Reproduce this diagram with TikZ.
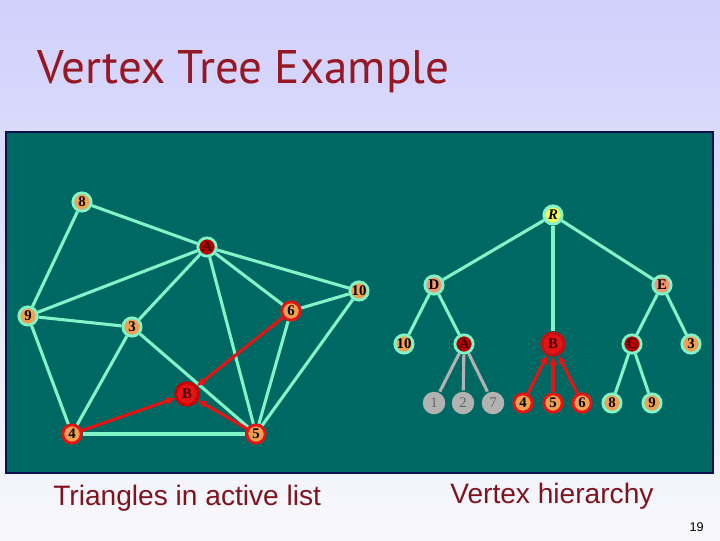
\documentclass[tikz,border=0pt]{standalone}
\usepackage{fontspec}
\setmainfont{Liberation Serif}
\newfontfamily\titlefont{PT Sans}
\newfontfamily\capfont{Liberation Sans}
\usetikzlibrary{arrows.meta}
\definecolor{slidetop}{RGB}{208,208,252}
\definecolor{slidebot}{RGB}{248,248,252}
\definecolor{panel}{RGB}{0,104,98}
\definecolor{panelrim}{RGB}{10,16,80}
\definecolor{aqua}{RGB}{130,245,200}
\definecolor{vorange}{RGB}{240,160,80}
\definecolor{vred}{RGB}{228,20,20}
\definecolor{vdark}{RGB}{178,0,0}
\definecolor{vsalmon}{RGB}{240,150,112}
\definecolor{vgray}{RGB}{178,178,178}
\definecolor{vyellow}{RGB}{245,250,90}
\definecolor{titlered}{RGB}{150,24,36}
\definecolor{capred}{RGB}{128,20,30}
\definecolor{darktext}{RGB}{70,0,0}
\pgfdeclarelayer{back}
\pgfdeclarelayer{edges}
\pgfsetlayers{back,edges,main}
\begin{document}
\begin{tikzpicture}[x=0.025cm,y=-0.025cm,
  vtx/.style={circle,draw=aqua,fill=vorange,line width=2pt,inner sep=0pt,minimum size=13pt,font=\bfseries\fontsize{10.5}{10.5}\selectfont},
  hot/.style={vtx,draw=vred},
  dk/.style={vtx,fill=vdark,text=darktext},
  inner/.style={vtx,fill=vsalmon},
  gone/.style={vtx,draw=none,fill=vgray,minimum size=16pt,text=black!60,font=\fontsize{10.5}{10.5}\selectfont},
  link/.style={aqua,line width=2.2pt},
  dead/.style={vgray,line width=2.2pt},
  act/.style={vred,line width=2.2pt,-{Triangle[length=6pt,width=5pt]}}]
\useasboundingbox (0,0) rectangle (720,540);
\begin{pgfonlayer}{back}
\shade[top color=slidetop,bottom color=slidebot] (0,0) rectangle (720,540);
\draw[panelrim,line width=1.5pt,fill=panel] (6,132) rectangle (713,473);
\end{pgfonlayer}
\node[anchor=base west,text=titlered,font=\titlefont\fontsize{33.5}{33.5}\selectfont,inner sep=0pt] (title) at (37,83) {Vertex Tree Example};
% active list triangles
\node[vtx] (g8) at (82,202) {8};
\node[dk] (gA) at (207,247) {A};
\node[vtx] (g10) at (359,291) {10};
\node[hot] (g6) at (291,311) {6};
\node[vtx] (g9) at (28,316) {9};
\node[vtx] (g3) at (132,327) {3};
\node[hot,fill=vred,draw=red!80!black,minimum size=16pt,text=darktext] (gB) at (187,394) {B};
\node[hot] (g4) at (72,434) {4};
\node[hot] (g5) at (256,434) {5};
\begin{pgfonlayer}{edges}
\foreach \a/\b in {g8/gA,g8/g9,gA/g9,gA/g3,gA/g5,gA/g6,gA/g10,g9/g3,g9/g4,g3/g4,g3/g5,g6/g10,g6/g5,g10/g5,g4/g5}
\draw[link] (\a) -- (\b);
\end{pgfonlayer}
\foreach \a in {g6,g4,g5}
\draw[act] (\a) -- (gB);
% vertex hierarchy
\node[vtx,fill=vyellow,font=\bfseries\itshape\fontsize{10.5}{10.5}\selectfont] (tR) at (553,215) {R};
\node[inner] (tD) at (434,285) {D};
\node[inner] (tE) at (662,285) {E};
\node[vtx] (t10) at (404,344) {10};
\node[dk] (tA) at (464,344) {A};
\node[hot,fill=vred,draw=vred!85!black,minimum size=16pt,text=darktext] (tB) at (553,344) {B};
\node[dk] (tC) at (632,344) {C};
\node[vtx] (t3) at (691,344) {3};
\node[gone] (t1) at (434,403) {1};
\node[gone] (t2) at (463,403) {2};
\node[gone] (t7) at (493,403) {7};
\node[hot] (t4) at (523,403) {4};
\node[hot] (t5) at (553,403) {5};
\node[hot] (t6) at (582,403) {6};
\node[vtx] (t8) at (612,403) {8};
\node[vtx] (t9) at (652,403) {9};
\begin{pgfonlayer}{edges}
\foreach \a/\b in {tR/tD,tR/tB,tR/tE,tD/t10,tD/tA,tE/tC,tE/t3,tC/t8,tC/t9}
\draw[link] (\a) -- (\b);
\foreach \b in {t1,t2,t7}
\draw[dead] (tA) -- (\b);
\end{pgfonlayer}
\foreach \a in {t4,t5,t6}
\draw[act] (\a) -- (tB);
% captions
\node[anchor=base west,text=capred,font=\capfont\fontsize{20}{20}\selectfont,inner sep=0pt] (leftcap) at (53,505) {Triangles in active list};
\node[anchor=base west,text=capred,font=\capfont\fontsize{20}{20}\selectfont,inner sep=0pt] (rightcap) at (450,503) {Vertex hierarchy};
\node[anchor=base east,font=\capfont\fontsize{9}{9}\selectfont,inner sep=0pt] (pageno) at (704,531) {19};
\end{tikzpicture}
\end{document}
